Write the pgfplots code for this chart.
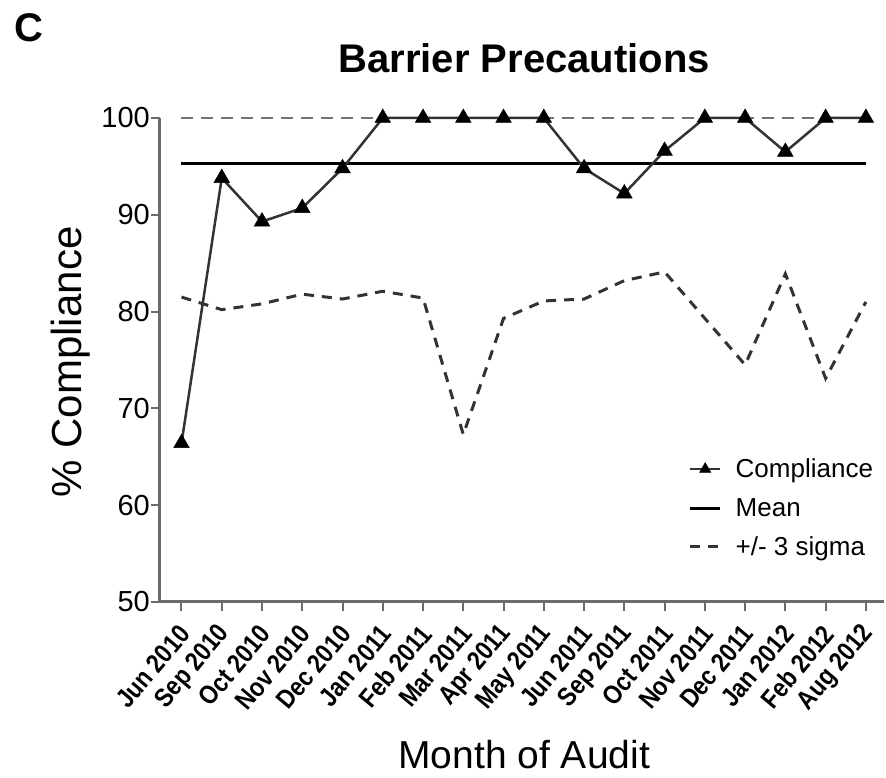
\documentclass[border=0pt]{standalone}
\usepackage{pgfplots}
\pgfplotsset{compat=1.18}
\usepackage{fontspec}
\setmainfont{Liberation Sans}
\newfontfamily\ticknarrow{Liberation Sans}[FakeStretch=0.86]
\definecolor{axgray}{gray}{0.42}
\definecolor{dashgray}{gray}{0.45}
\definecolor{linegray}{gray}{0.2}
\begin{document}
\begin{tikzpicture}
\useasboundingbox (-160pt,-176pt) rectangle (726pt,602pt);
\begin{axis}[
  at={(0pt,0pt)}, anchor=south west,
  scale only axis, width=724pt, height=484pt,
  xmin=-0.534, xmax=17.45, ymin=50, ymax=100,
  axis x line*=bottom, axis y line*=left,
  axis line style={-, draw=axgray, line width=3pt},
  tick style={draw=axgray, line width=2pt},
  tick align=outside, major tick length=9pt,
  xtick={0,...,17},
  xticklabels={Jun 2010,Sep 2010,Oct 2010,Nov 2010,Dec 2010,Jan 2011,Feb 2011,Mar 2011,Apr 2011,May 2011,Jun 2011,Sep 2011,Oct 2011,Nov 2011,Dec 2011,Jan 2012,Feb 2012,Aug 2012},
  xticklabel style={font=\ticknarrow\bfseries\fontsize{26.5}{26.5}\selectfont, rotate=50, anchor=east, inner sep=1pt, yshift=-14pt, xshift=-11pt},
  ytick={50,60,70,80,90,100},
  yticklabel style={font=\fontsize{29}{29}\selectfont, inner sep=1pt},
  /pgf/number format/assume math mode=true,
  title={Barrier Precautions},
  title style={font=\bfseries\fontsize{40}{40}\selectfont, at={(axis description cs:0.503,1.0826)}, anchor=base},
  xlabel={Month of Audit},
  xlabel style={font=\fontsize{39}{39}\selectfont, at={(axis description cs:0.503,-0.345)}, anchor=base},
  ylabel={\% Compliance},
  ylabel style={font=\fontsize{42}{42}\selectfont, at={(axis description cs:-0.124,0.496)}, anchor=center},
  legend style={draw=none, fill=none, font=\fontsize{26}{26}\selectfont, at={(axis description cs:0.730,0.30)}, anchor=north west, row sep=15pt, inner sep=0pt,
    /tikz/every odd column/.append style={column sep=12pt}},
  legend cell align=left,
  reverse legend,
  legend image code/.code={\draw[mark repeat=2,mark phase=2,#1] plot coordinates {(0pt,0pt) (15pt,0pt) (30pt,0pt)};},
  clip=false,
]
% upper 3 sigma limit
\addplot[dashgray, line width=2.5pt, dash pattern=on 12pt off 8pt, forget plot] coordinates {(0,100) (17,100)};
% lower 3 sigma limit
\addplot[linegray, line width=3pt, dash pattern=on 10pt off 8pt] coordinates {
(0,81.5) (1,80.2) (2,80.8) (3,81.8) (4,81.3) (5,82.1) (6,81.4) (7,67.3) (8,79.3)
(9,81.1) (10,81.3) (11,83.2) (12,84.1) (13,79.3) (14,74.5) (15,83.9) (16,73.1) (17,81.0)};
\addlegendentry{+/- 3 sigma}
% mean
\addplot[black, line width=3pt] coordinates {(0,95.3) (17,95.3)};
\addlegendentry{Mean}
% compliance
\addplot[linegray, line width=2.5pt, mark=triangle*, mark size=9pt, mark options={solid, fill=black, draw=black, line width=0.5pt}, legend image post style={mark size=6.5pt}] coordinates {
(0,66.4) (1,93.8) (2,89.3) (3,90.7) (4,94.8) (5,100) (6,100) (7,100) (8,100)
(9,100) (10,94.8) (11,92.2) (12,96.6) (13,100) (14,100) (15,96.5) (16,100) (17,100)};
\addlegendentry{Compliance}
\end{axis}
\node[anchor=base west, font=\bfseries\fontsize{40}{40}\selectfont, inner sep=0pt] at (-146pt,560pt) {C};
\end{tikzpicture}
\end{document}
